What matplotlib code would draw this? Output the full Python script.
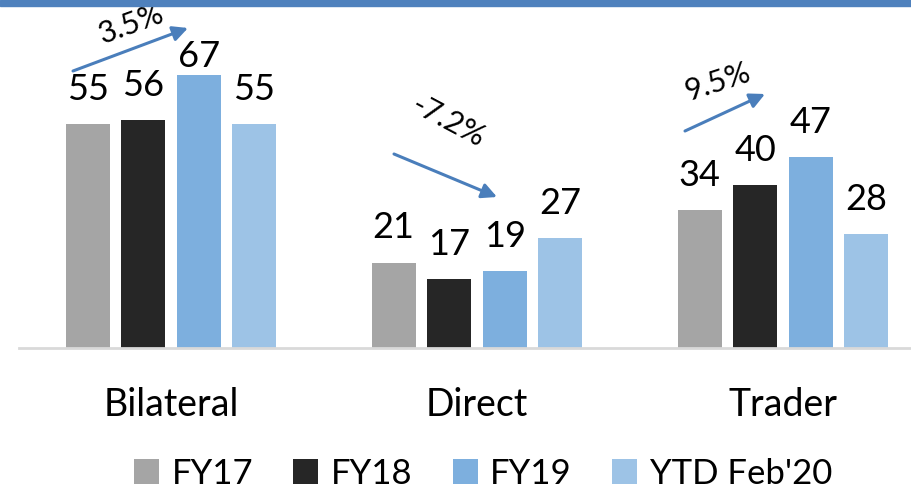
import matplotlib
matplotlib.use("Agg")
import matplotlib.pyplot as plt
from matplotlib.patches import Rectangle
import numpy as np

categories = ["Bilateral", "Direct", "Trader"]
series_names = ["FY17", "FY18", "FY19", "YTD Feb'20"]
values = {
    "FY17": [55, 21, 34],
    "FY18": [56, 17, 40],
    "FY19": [67, 19, 47],
    "YTD Feb'20": [55, 27, 28],
}
colors = ["#A5A5A5", "#262626", "#7DAFDE", "#9DC3E6"]
growth_labels = ["3.5%", "-7.2%", "9.5%"]

plt.rcParams['font.family'] = ['Lato', 'DejaVu Sans']

W, H = 912, 493
fig = plt.figure(figsize=(W / 100, H / 100), dpi=100)
# top blue band
fig.patches.append(Rectangle((0, 1 - 6 / H), 1, 6 / H, transform=fig.transFigure,
                             color="#4F81BD", zorder=0))

ax_left = 19 / W
ax_bottom = (H - 348) / H
ax_top = (H - 6) / H
ax = fig.add_axes([ax_left, ax_bottom, 1 - ax_left, ax_top - ax_bottom])

px_per_unit = 306.0
x0_px = 171.0
ppu_y = 4.07
ax.set_xlim((19 - x0_px) / px_per_unit, (912 - x0_px) / px_per_unit)
ax.set_ylim(0, (348 - 6) / ppu_y)

x = np.arange(len(categories))
slot = 55.5 / px_per_unit
width = 44 / px_per_unit
offsets = (np.arange(4) - 1.5) * slot

# label nudged down to clear the growth arrow (series, category index)
label_offset = {("FY19", 0): 2}

for i, name in enumerate(series_names):
    bars = ax.bar(x + offsets[i], values[name], width=width, color=colors[i],
                  label=name, zorder=2)
    for j, (b, v) in enumerate(zip(bars, values[name])):
        off = label_offset.get((name, j), 13)
        ax.annotate(str(v), (b.get_x() + b.get_width() / 2, v),
                    xytext=(0, off), textcoords="offset points",
                    ha="center", va="bottom", fontsize=26, color="black")

for s in ["top", "right", "left"]:
    ax.spines[s].set_visible(False)
ax.spines["bottom"].set_color("#D9D9D9")
ax.spines["bottom"].set_linewidth(2)
ax.set_yticks([])
ax.set_xticks(x)
ax.set_xticklabels(categories, fontsize=27)
ax.tick_params(axis="x", length=0, pad=28)

def px2d(px, py):
    return ((px - x0_px) / px_per_unit, (348 - py) / ppu_y)

arrows = [((73, 71), (188, 28)), ((394, 154), (497, 197)), ((685, 131), (765, 94))]
texts = [((131, 24), 20), ((448, 121), -28), ((718, 82), 18)]
for (s, e), (tc, rot), lab in zip(arrows, texts, growth_labels):
    ax.annotate("", xy=px2d(*e), xytext=px2d(*s),
                arrowprops=dict(arrowstyle="-|>,head_length=0.9,head_width=0.45",
                                color="#4A7EBB", lw=2.2, shrinkA=0, shrinkB=0),
                annotation_clip=False)
    ax.text(*px2d(*tc), lab, rotation=rot, ha="center", va="center",
            fontsize=22, rotation_mode="anchor")

fig.legend(loc="center", bbox_to_anchor=(483 / W, 1 - 474 / H), ncol=4, frameon=False,
           fontsize=25, handlelength=0.72, handleheight=0.72, handletextpad=0.37,
           columnspacing=1.15, borderpad=0.1)

fig.savefig("out.png", dpi=100)
